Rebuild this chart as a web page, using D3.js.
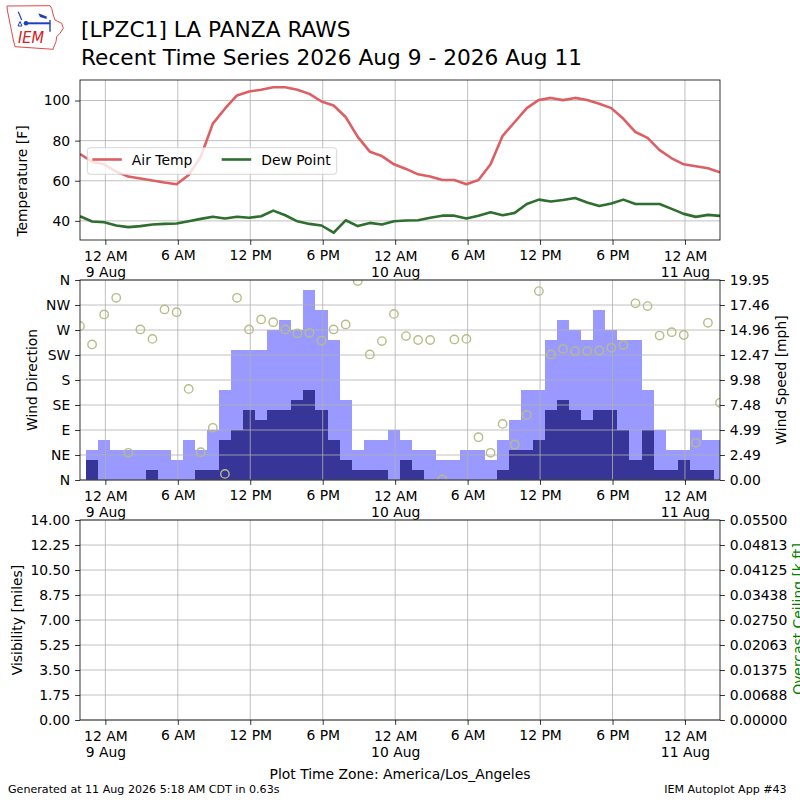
<!DOCTYPE html>
<html>
<head>
<meta charset="utf-8">
<script src="https://cdn.jsdelivr.net/npm/d3@7"></script>
<style>
  body { margin: 0; background: #fff; }
  text { font-family: "DejaVu Sans", sans-serif; }
</style>
</head>
<body>
<svg id="chart" width="800" height="800"></svg>
<script>
///------- LPZC1 recent time series, hourly obs (local wall clock kept as UTC) -------///
var first_ob = Date.UTC(2026, 7, 8, 21, 54);
var ob_count = 54;

var air_temp = [73.3, 69.5, 68.2, 64.6, 62.1, 61.1, 60.1, 59.1, 58.3, 62.9,
  72.0, 88.5, 95.9, 102.5, 104.5, 105.4, 106.6, 106.6, 105.4, 103.3,
  99.5, 97.5, 91.8, 81.9, 74.5, 72.3, 68.2, 65.9, 63.2, 62.1,
  60.4, 60.4, 58.3, 60.4, 68.2, 82.4, 89.3, 96.2, 100.3, 101.3,
  100.2, 101.3, 100.3, 98.4, 96.2, 90.9, 84.3, 81.4, 75.3, 71.2,
  68.2, 67.2, 66.2, 64.2];
var dew_point = [42.3, 39.7, 39.3, 37.7, 36.9, 37.4, 38.2, 38.5, 38.7, 39.8,
  41.0, 42.1, 41.2, 42.1, 41.6, 42.3, 45.1, 42.8, 39.8, 38.5,
  37.7, 34.1, 40.3, 37.4, 39.0, 38.2, 39.8, 40.2, 40.3, 41.6,
  42.6, 42.6, 41.2, 42.6, 44.3, 42.8, 44.0, 48.4, 50.6, 49.7,
  50.4, 51.4, 49.2, 47.4, 48.7, 50.6, 48.4, 48.4, 48.4, 46.0,
  43.5, 42.0, 43.0, 42.5];
var wind_dir = [277, 244, 298, 328, 49, 271, 254, 307, 302, 164,
  50, 94, 11, 328, 271, 289, 284, 271, 264, 265,
  251, 271, 280, 358, 226, 250, 299, 259, 252, 252,
  1, 253, 254, 77, 49, 101, 64, 117, 340, 226,
  236, 232, 232, 233, 238, 243, 318, 313, 260, 266,
  261, 67, 283, 139];
var wind_speed = [0, 2, 0, 0, 0, 0, 1, 0, 0, 0,
  1, 1, 4, 5, 7, 6, 7, 7, 8, 9,
  7, 4, 2, 1, 1, 1, 0, 2, 1, 0,
  0, 0, 0, 0, 0, 1, 3, 3, 4, 7,
  8, 7, 6, 7, 7, 5, 2, 5, 1, 1,
  2, 1, 1, 0];
var wind_gust = [0, 3, 4, 3, 3, 3, 3, 3, 2, 4,
  3, 5, 9, 13, 13, 13, 15, 16, 15, 19,
  17, 14, 8, 3, 4, 4, 5, 4, 3, 3,
  2, 2, 3, 3, 2, 4, 6, 9, 9, 14,
  16, 15, 14, 17, 15, 14, 14, 9, 5, 3,
  3, 5, 4, 4];

var temp_ticks = [40, 60, 80, 100];
var dir_ticks = [0, 45, 90, 135, 180, 225, 270, 315, 360];
var dir_labels = ["N", "NE", "E", "SE", "S", "SW", "W", "NW", "N"];
var vis_labels = ["0.00", "1.75", "3.50", "5.25", "7.00", "8.75", "10.50", "12.25", "14.00"];
var ceil_labels = ["0.00000", "0.00688", "0.01375", "0.02063", "0.02750",
  "0.03438", "0.04125", "0.04813", "0.05500"];

var RED = "#dd5f64", GREEN = "#2e6e2e", GUST = "#9999ff", SKNT = "#373698", DOTS = "#b8bc86";
var GRID = "#b0b0b0", FS = "13.9px";

var times = d3.range(ob_count).map(i => new Date(first_ob + i * 3600e3));
var svg = d3.select("#chart");

// panels share one time axis
var left = 80, right = 720;
var panels = {
  temp: { top: 80, bottom: 240 },
  wind: { top: 280, bottom: 480 },
  vis: { top: 520, bottom: 720 }
};
var x = d3.scaleUtc().domain([times[0], times[ob_count - 1]]).range([left, right]);
var time_ticks = x.ticks(d3.utcHour.every(6));

function style_axis(g) {
  g.select(".domain").remove();
  g.selectAll(".tick line").attr("stroke", "#000").attr("stroke-width", 0.8);
  g.selectAll(".tick text").attr("font-size", FS).attr("fill", "#000")
    .attr("font-family", "DejaVu Sans");
}

function clip_for(name, p) {
  svg.append("clipPath").attr("id", "clip-" + name)
    .append("rect").attr("x", left).attr("y", p.top)
    .attr("width", right - left).attr("height", p.bottom - p.top);
  return "url(#clip-" + name + ")";
}

function draw_grid(p, y, yvals) {
  var g = svg.append("g");
  g.selectAll(".vg").data(time_ticks).enter().append("line")
    .attr("x1", d => x(d)).attr("x2", d => x(d))
    .attr("y1", p.top).attr("y2", p.bottom)
    .attr("stroke", GRID).attr("stroke-width", 0.8);
  g.selectAll(".hg").data(yvals).enter().append("line")
    .attr("x1", left).attr("x2", right)
    .attr("y1", d => y(d)).attr("y2", d => y(d))
    .attr("stroke", GRID).attr("stroke-width", 0.8);
}

function draw_time_axis(p) {
  var g = svg.append("g").attr("transform", "translate(0," + p.bottom + ")")
    .call(d3.axisBottom(x).tickValues(time_ticks).tickSize(4.9).tickPadding(4.9));
  style_axis(g);
  g.selectAll(".tick text").each(function (d) {
    var t = d3.select(this).text("").attr("dy", null);
    var midnight = d.getUTCHours() === 0;
    t.append("tspan").attr("x", 0).attr("dy", midnight ? "0.8em" : "0.73em")
      .text(d3.utcFormat("%-I %p")(d));
    if (midnight) {
      t.append("tspan").attr("x", 0).attr("dy", "1.13em").text(d3.utcFormat("%-d %b")(d));
    }
  });
}

function draw_frame(p) {
  svg.append("rect").attr("x", left).attr("y", p.top)
    .attr("width", right - left).attr("height", p.bottom - p.top)
    .attr("fill", "none").attr("stroke", "#000").attr("stroke-width", 0.8);
}

function y_label(txt, cx, cy, color) {
  svg.append("text").attr("transform", "translate(" + cx + "," + cy + ") rotate(-90)")
    .attr("text-anchor", "middle").attr("font-size", FS).attr("fill", color || "#000")
    .text(txt);
}

//--------- temperature panel ---------
var pT = panels.temp;
var t_all = air_temp.concat(dew_point);
var t_min = d3.min(t_all), t_max = d3.max(t_all), t_pad = (t_max - t_min) * 0.05;
var yT = d3.scaleLinear().domain([t_min - t_pad, t_max + t_pad]).range([pT.bottom, pT.top]);
draw_grid(pT, yT, temp_ticks);
var clipT = clip_for("temp", pT);
var line_maker = vals => d3.line().x((d, i) => x(times[i])).y(d => yT(d))(vals);
svg.append("path").attr("d", line_maker(air_temp)).attr("clip-path", clipT)
  .attr("fill", "none").attr("stroke", RED).attr("stroke-width", 2.6).attr("stroke-linejoin", "round");
svg.append("path").attr("d", line_maker(dew_point)).attr("clip-path", clipT)
  .attr("fill", "none").attr("stroke", GREEN).attr("stroke-width", 2.6).attr("stroke-linejoin", "round");
var axT = svg.append("g").attr("transform", "translate(" + left + ",0)")
  .call(d3.axisLeft(yT).tickValues(temp_ticks).tickSize(4.9).tickPadding(4.9));
style_axis(axT);
draw_time_axis(pT);
draw_frame(pT);
y_label("Temperature [F]", 26.8, 181);

// legend
var lg = svg.append("g");
lg.append("rect").attr("x", 87.3).attr("y", 147.7).attr("width", 249.4).attr("height", 26.6)
  .attr("rx", 3).attr("fill", "#fff").attr("fill-opacity", 0.8)
  .attr("stroke", "#cccccc").attr("stroke-width", 0.8);
[{ label: "Air Temp", color: RED, x0: 92.3 }, { label: "Dew Point", color: GREEN, x0: 221.7 }]
  .forEach(item => {
    lg.append("line").attr("x1", item.x0).attr("x2", item.x0 + 29.5)
      .attr("y1", 159.5).attr("y2", 159.5).attr("stroke", item.color).attr("stroke-width", 2.6);
    lg.append("text").attr("x", item.x0 + 39.5).attr("y", 164.5)
      .attr("font-size", FS).attr("fill", "#000").text(item.label);
  });

//--------- wind panel ---------
var pW = panels.wind;
var yDir = d3.scaleLinear().domain([0, 360]).range([pW.bottom, pW.top]);
var spd_max = d3.max(wind_gust) * 1.05;
var ySpd = d3.scaleLinear().domain([0, spd_max]).range([pW.bottom, pW.top]);
var spd_ticks = d3.range(9).map(i => i * spd_max / 8);
// round half up like the original labels (9.975 -> 9.98)
var spd_fmt = d => (Math.round(d * 100 + 1e-6) / 100).toFixed(2);
var clipW = clip_for("wind", pW);
var half_hour = 1800e3;

function draw_bars(vals, color) {
  svg.append("g").attr("clip-path", clipW).selectAll("rect")
    .data(vals.map((v, i) => ({ t: times[i], v: v })).filter(d => d.v > 0))
    .enter().append("rect")
    .attr("x", d => x(new Date(+d.t - half_hour)))
    .attr("width", d => x(new Date(+d.t + half_hour)) - x(new Date(+d.t - half_hour)))
    .attr("y", d => ySpd(d.v))
    .attr("height", d => pW.bottom - ySpd(d.v))
    .attr("fill", color).attr("shape-rendering", "crispEdges");
}
draw_bars(wind_gust, GUST);
draw_bars(wind_speed, SKNT);
draw_grid(pW, yDir, dir_ticks);
svg.append("g").attr("clip-path", clipW).selectAll("circle")
  .data(wind_dir).enter().append("circle")
  .attr("cx", (d, i) => x(times[i])).attr("cy", d => yDir(d)).attr("r", 4.2)
  .attr("fill", "none").attr("stroke", DOTS).attr("stroke-width", 1.4);
var axDir = svg.append("g").attr("transform", "translate(" + left + ",0)")
  .call(d3.axisLeft(yDir).tickValues(dir_ticks).tickFormat((d, i) => dir_labels[i])
    .tickSize(4.9).tickPadding(4.9));
style_axis(axDir);
var axSpd = svg.append("g").attr("transform", "translate(" + right + ",0)")
  .call(d3.axisRight(ySpd).tickValues(spd_ticks).tickFormat(spd_fmt)
    .tickSize(4.9).tickPadding(4.9));
style_axis(axSpd);
draw_time_axis(pW);
draw_frame(pW);
y_label("Wind Direction", 36.8, 380);
y_label("Wind Speed [mph]", 786, 380);

//--------- visibility / ceiling panel (no obs) ---------
var pV = panels.vis;
var yVis = d3.scaleLinear().domain([0, 14]).range([pV.bottom, pV.top]);
var yCeil = d3.scaleLinear().domain([0, 0.055]).range([pV.bottom, pV.top]);
var vis_ticks = vis_labels.map(Number);
var ceil_ticks = ceil_labels.map((d, i) => i * 0.055 / 8);
draw_grid(pV, yVis, vis_ticks);
var axVis = svg.append("g").attr("transform", "translate(" + left + ",0)")
  .call(d3.axisLeft(yVis).tickValues(vis_ticks).tickFormat((d, i) => vis_labels[i])
    .tickSize(4.9).tickPadding(4.9));
style_axis(axVis);
var axCeil = svg.append("g").attr("transform", "translate(" + right + ",0)")
  .call(d3.axisRight(yCeil).tickValues(ceil_ticks).tickFormat((d, i) => ceil_labels[i])
    .tickSize(4.9).tickPadding(4.9));
style_axis(axCeil);
draw_time_axis(pV);
draw_frame(pV);
y_label("Visibility [miles]", 21.6, 620);
y_label("Overcast Ceiling [k ft]", 803, 619, "#008000");

//--------- titles and footer ---------
svg.append("text").attr("x", 81).attr("y", 36.7).attr("font-size", "21.7px")
  .attr("fill", "#000").text("[LPZC1] LA PANZA RAWS");
svg.append("text").attr("x", 81).attr("y", 64.8).attr("font-size", "21.7px")
  .attr("fill", "#000").text("Recent Time Series 2026 Aug 9 - 2026 Aug 11");
svg.append("text").attr("x", 400).attr("y", 779).attr("text-anchor", "middle")
  .attr("font-size", FS).attr("fill", "#000").text("Plot Time Zone: America/Los_Angeles");
svg.append("text").attr("x", 8).attr("y", 792.7).attr("font-size", "11.1px")
  .attr("fill", "#000").text("Generated at 11 Aug 2026 5:18 AM CDT in 0.63s");
svg.append("text").attr("x", 786.7).attr("y", 792.7).attr("text-anchor", "end")
  .attr("font-size", "11.1px").attr("fill", "#000").text("IEM Autoplot App #43");

// IEM logo, rough sketch
var logo = svg.append("g");
logo.append("path")
  .attr("d", "M7,6 L50,5.7 L51.7,8.3 L53.3,15 L55,20 L61.7,23.3 L63.3,28.3 L60,33.3 L56.7,36.7 L56,41.7 L53.3,48.3 L53.3,49.3 L15,46.7 L13.3,40 L11.7,31.7 L9.3,20 L7.3,10 Z")
  .attr("fill", "#fff").attr("stroke", "#e04848").attr("stroke-width", 1);
logo.append("line").attr("x1", 18.3).attr("y1", 11.7).attr("x2", 21.7).attr("y2", 20)
  .attr("stroke", "#1f3fbf").attr("stroke-width", 1.2);
logo.append("path").attr("d", "M18,26 L20,21.5 L22,26 Z").attr("fill", "none")
  .attr("stroke", "#1f3fbf").attr("stroke-width", 1);
logo.append("line").attr("x1", 25).attr("y1", 23.3).attr("x2", 50).attr("y2", 23.3)
  .attr("stroke", "#1f3fbf").attr("stroke-width", 2);
logo.append("circle").attr("cx", 26).attr("cy", 23.3).attr("r", 2.3).attr("fill", "#1f3fbf");
logo.append("path").attr("d", "M38.3,13.3 L46.7,16.5 L46.7,19 L40,17 Z").attr("fill", "#1f3fbf");
logo.append("line").attr("x1", 50).attr("y1", 20).attr("x2", 50).attr("y2", 31.7)
  .attr("stroke", "#1f3fbf").attr("stroke-width", 1.4);
logo.append("text").attr("x", 18).attr("y", 43.3).attr("font-size", "16px")
  .attr("font-family", "Liberation Serif").attr("font-style", "italic")
  .attr("textLength", 26).attr("lengthAdjust", "spacingAndGlyphs")
  .attr("fill", "#d42020").text("IEM");
</script>
</body>
</html>
